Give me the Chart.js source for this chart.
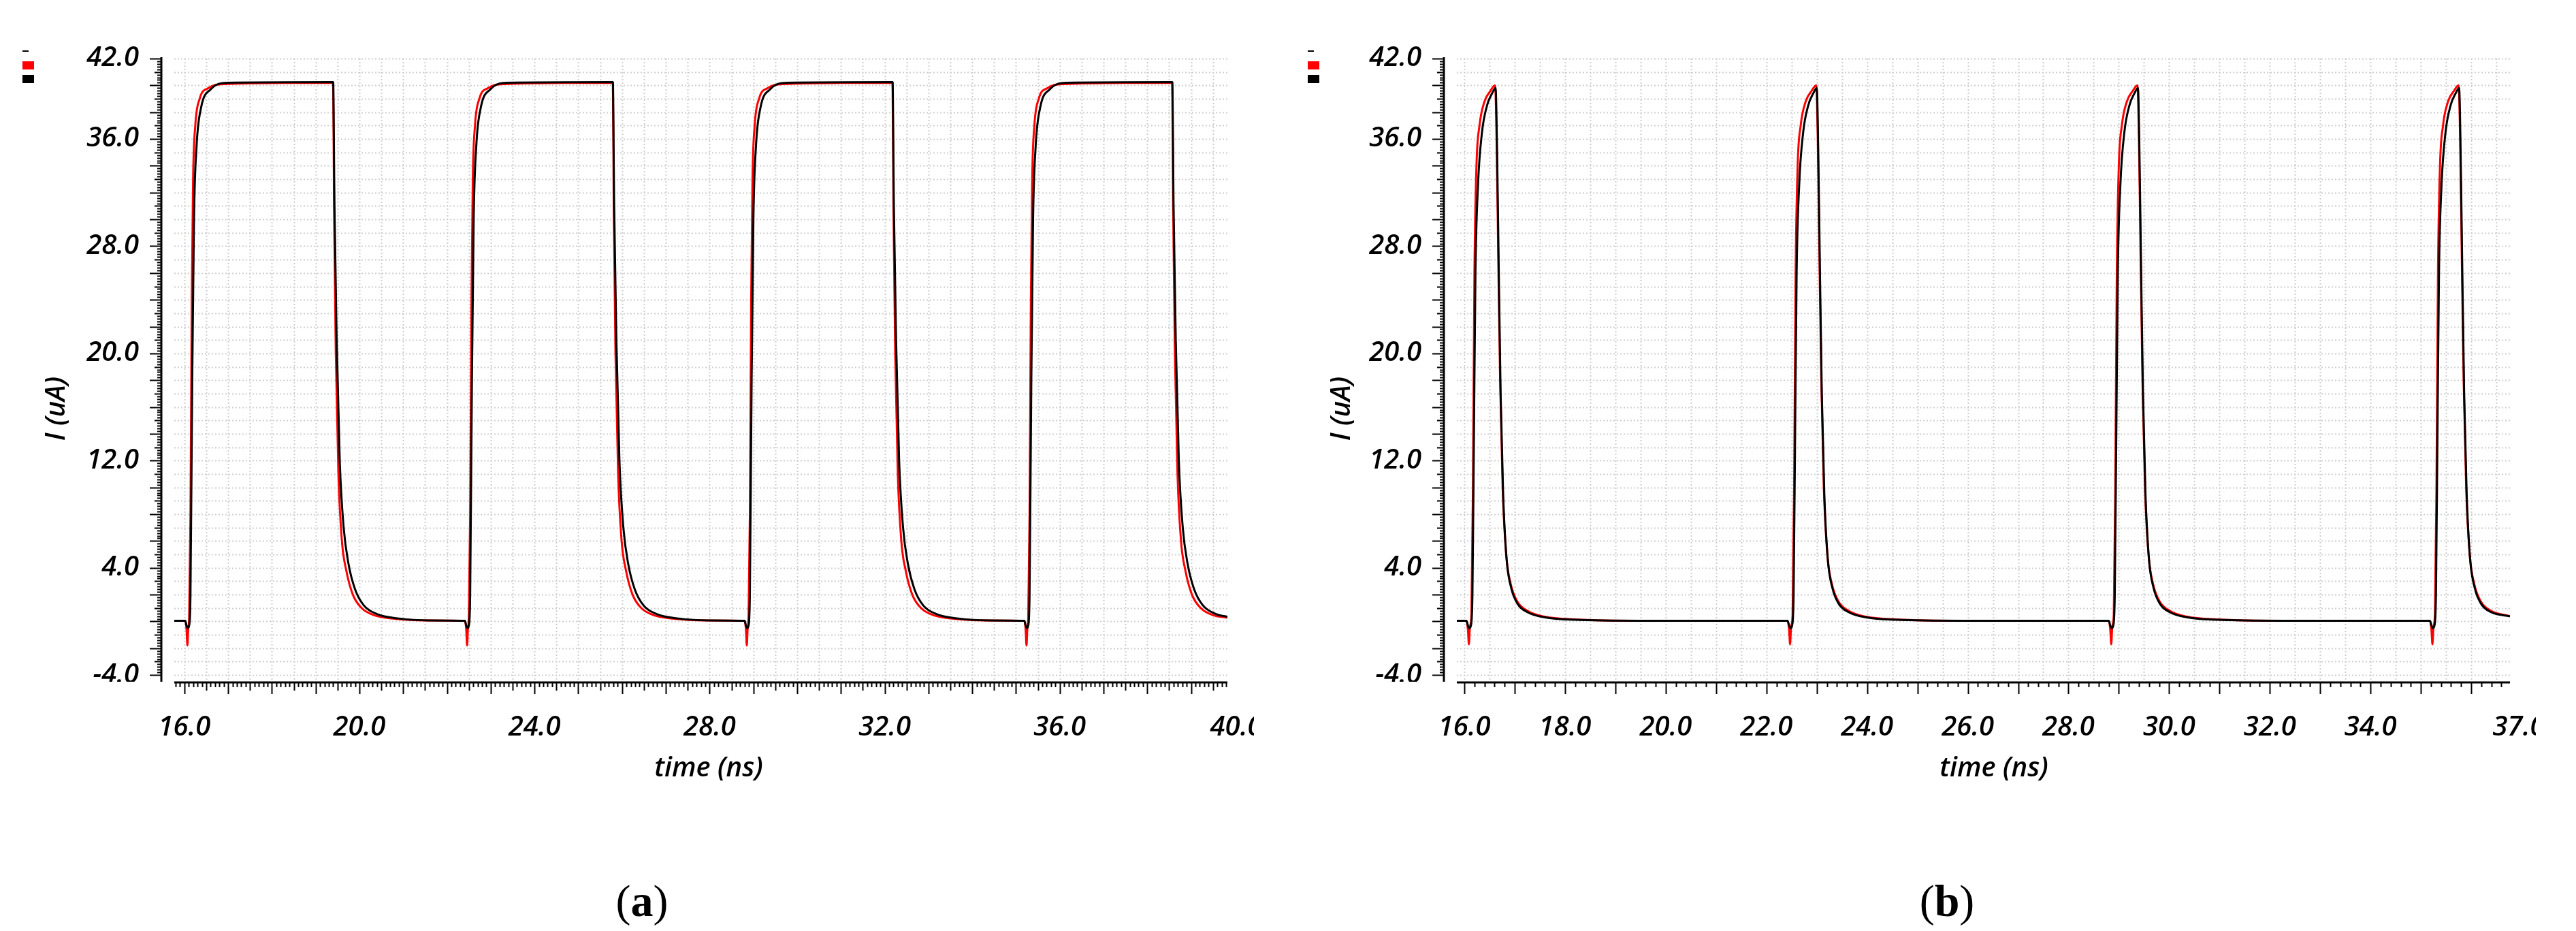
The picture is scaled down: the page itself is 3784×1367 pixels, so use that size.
<!DOCTYPE html>
<html><head><meta charset="utf-8">
<script src="https://cdn.jsdelivr.net/npm/chart.js@4/dist/chart.umd.min.js"></script>
<style>html,body{margin:0;padding:0;background:#fff;width:3784px;height:1367px;overflow:hidden}canvas{position:absolute;top:0}</style>
</head><body>
<canvas id="ca" width="1842" height="1367" style="left:0"></canvas>
<canvas id="cb" width="1883" height="1367" style="left:1842px"></canvas>
<script>
// ---- data (a) ----
const aRedT=[15.77,16.02,16.05,16.07,16.09,16.11,16.14,16.17,16.20,16.25,16.35,16.55,16.90,19.40,19.42,19.46,19.52,19.60,19.70,19.85,20.05,20.35,20.80,21.50,
22.41,22.44,22.46,22.48,22.50,22.53,22.56,22.59,22.64,22.74,22.94,23.29,25.79,25.81,25.85,25.91,25.99,26.09,26.24,26.44,26.74,27.19,27.89,
28.80,28.83,28.85,28.87,28.89,28.92,28.95,28.98,29.03,29.13,29.33,29.68,32.18,32.20,32.24,32.30,32.38,32.48,32.63,32.83,33.13,33.58,34.28,
35.19,35.22,35.24,35.26,35.28,35.31,35.34,35.37,35.42,35.52,35.72,36.07,38.57,38.59,38.63,38.69,38.77,38.87,39.02,39.22,39.52,39.83];
const aRedI=[0.05,0.05,-0.6,-1.8,-0.5,0.3,8,24,33,37,39,39.8,40.1,40.2,31,20,11,6,3.8,2.0,1.0,0.45,0.2,0.08,
0.05,-0.6,-1.8,-0.5,0.3,8,24,33,37,39,39.8,40.1,40.2,31,20,11,6,3.8,2.0,1.0,0.45,0.2,0.08,
0.05,-0.6,-1.8,-0.5,0.3,8,24,33,37,39,39.8,40.1,40.2,31,20,11,6,3.8,2.0,1.0,0.45,0.2,0.08,
0.05,-0.6,-1.8,-0.5,0.3,8,24,33,37,39,39.8,40.1,40.2,31,20,11,6,3.8,2.0,1.0,0.45,0.28];
const aBlkT=[15.77,16.02,16.05,16.08,16.11,16.14,16.18,16.22,16.28,16.38,16.60,17.00,19.40,19.43,19.48,19.55,19.64,19.75,19.90,20.10,20.40,20.90,21.60,
22.41,22.44,22.47,22.50,22.53,22.57,22.61,22.67,22.77,22.99,23.39,25.79,25.82,25.87,25.94,26.03,26.14,26.29,26.49,26.79,27.29,27.99,
28.80,28.83,28.86,28.89,28.92,28.96,29.00,29.06,29.16,29.38,29.78,32.18,32.21,32.26,32.33,32.42,32.53,32.68,32.88,33.18,33.68,34.38,
35.19,35.22,35.25,35.28,35.31,35.35,35.39,35.45,35.55,35.77,36.17,38.57,38.60,38.65,38.72,38.81,38.92,39.07,39.27,39.57,39.83];
const aBlkI=[0.05,0.05,-0.3,-0.5,-0.3,2,18,30,35.5,38.3,39.7,40.2,40.25,31,21,12,7,4.3,2.4,1.2,0.55,0.22,0.08,
0.05,-0.3,-0.5,-0.3,2,18,30,35.5,38.3,39.7,40.2,40.25,31,21,12,7,4.3,2.4,1.2,0.55,0.22,0.08,
0.05,-0.3,-0.5,-0.3,2,18,30,35.5,38.3,39.7,40.2,40.25,31,21,12,7,4.3,2.4,1.2,0.55,0.22,0.08,
0.05,-0.3,-0.5,-0.3,2,18,30,35.5,38.3,39.7,40.2,40.25,31,21,12,7,4.3,2.4,1.2,0.55,0.35];
// ---- data (b) ----
const bRedT=[15.85,16.04,16.07,16.09,16.11,16.14,16.17,16.20,16.24,16.30,16.40,16.52,16.61,16.64,16.67,16.71,16.76,16.83,16.92,17.05,17.25,17.60,18.20,19.50,
22.42,22.45,22.47,22.49,22.52,22.55,22.58,22.62,22.68,22.78,22.90,22.99,23.02,23.05,23.09,23.14,23.21,23.30,23.43,23.63,23.98,24.58,25.88,
28.80,28.83,28.85,28.87,28.90,28.93,28.96,29.00,29.06,29.16,29.28,29.37,29.40,29.43,29.47,29.52,29.59,29.68,29.81,30.01,30.36,30.96,32.26,
35.18,35.21,35.23,35.25,35.28,35.31,35.34,35.38,35.44,35.54,35.66,35.75,35.78,35.81,35.85,35.90,35.97,36.06,36.19,36.39,36.77];
const bRedI=[0.05,0.05,-0.6,-1.7,-0.4,0.5,10,26,34,37,38.8,39.6,40.0,36,28,18,10,5,2.8,1.5,0.8,0.35,0.15,0.05,
0.05,-0.6,-1.7,-0.4,0.5,10,26,34,37,38.8,39.6,40.0,36,28,18,10,5,2.8,1.5,0.8,0.35,0.15,0.05,
0.05,-0.6,-1.7,-0.4,0.5,10,26,34,37,38.8,39.6,40.0,36,28,18,10,5,2.8,1.5,0.8,0.35,0.15,0.05,
0.05,-0.6,-1.7,-0.4,0.5,10,26,34,37,38.8,39.6,40.0,36,28,18,10,5,2.8,1.5,0.8,0.4];
const bBlkT=[15.85,16.04,16.07,16.10,16.13,16.16,16.19,16.22,16.27,16.35,16.45,16.55,16.62,16.65,16.68,16.72,16.77,16.84,16.93,17.06,17.25,17.60,18.20,19.50,
22.42,22.45,22.48,22.51,22.54,22.57,22.60,22.65,22.73,22.83,22.93,23.00,23.03,23.06,23.10,23.15,23.22,23.31,23.44,23.63,23.98,24.58,25.88,
28.80,28.83,28.86,28.89,28.92,28.95,28.98,29.03,29.11,29.21,29.31,29.38,29.41,29.44,29.48,29.53,29.60,29.69,29.82,30.01,30.36,30.96,32.26,
35.18,35.21,35.24,35.27,35.30,35.33,35.36,35.41,35.49,35.59,35.69,35.76,35.79,35.82,35.86,35.91,35.98,36.07,36.20,36.39,36.77];
const bBlkI=[0.05,0.05,-0.3,-0.5,-0.3,2,14,26,32.5,36.5,38.5,39.4,39.8,35,27,17,9.5,4.6,2.5,1.3,0.7,0.3,0.12,0.05,
0.05,-0.3,-0.5,-0.3,2,14,26,32.5,36.5,38.5,39.4,39.8,35,27,17,9.5,4.6,2.5,1.3,0.7,0.3,0.12,0.05,
0.05,-0.3,-0.5,-0.3,2,14,26,32.5,36.5,38.5,39.4,39.8,35,27,17,9.5,4.6,2.5,1.3,0.7,0.3,0.12,0.05,
0.05,-0.3,-0.5,-0.3,2,14,26,32.5,36.5,38.5,39.4,39.8,35,27,17,9.5,4.6,2.5,1.3,0.7,0.38];
// ---- tick labels ----
const yTicks=[-4,4,12,20,28,36,42];
const aXTicks=[16,20,24,28,32,36,40];
const bXTicks=[16,18,20,22,24,26,28,30,32,34,37];

const zip=(t,v)=>t.map((x,i)=>({x:x,y:v[i]}));
const FONT='italic 600 40px "Open Sans"';

function decor(opt){
  return {
    id:'decor',
    beforeDatasetsDraw(chart){
      const c=chart.ctx,a=chart.chartArea,xs=chart.scales.x,ys=chart.scales.y;
      c.save();c.strokeStyle='#cfcfcf';c.lineWidth=2;c.setLineDash([2,3]);
      for(let v=Math.ceil(xs.min*2)/2;v<=xs.max+1e-9;v+=0.5){const p=Math.round(xs.getPixelForValue(v))+0.5;
        c.beginPath();c.moveTo(p,a.top);c.lineTo(p,a.bottom);c.stroke();}
      for(let v=-4;v<=42;v+=1){const p=Math.round(ys.getPixelForValue(v))+0.5;
        c.beginPath();c.moveTo(a.left,p);c.lineTo(a.right,p);c.stroke();}
      c.restore();
    },
    afterDraw(chart){
      const c=chart.ctx,a=chart.chartArea,xs=chart.scales.x,ys=chart.scales.y;
      const red=chart.data.datasets[1].borderColor,blk=chart.data.datasets[0].borderColor;
      c.save();c.strokeStyle='#000';c.fillStyle='#000';
      const ax=a.left-19;
      c.lineWidth=3;c.beginPath();c.moveTo(ax,ys.getPixelForValue(42)-2);c.lineTo(ax,a.bottom);c.stroke();
      c.lineWidth=2;
      for(let k=-20;k<=210;k++){const v=k/5;const p=Math.round(ys.getPixelForValue(v))+0.5;
        let L=6; if(k%10===0)L=17; else if(k%5===0)L=10;
        c.beginPath();c.moveTo(ax-L,p);c.lineTo(ax,p);c.stroke();}
      const ay=a.bottom+1;
      c.lineWidth=3;c.beginPath();c.moveTo(a.left,ay);c.lineTo(a.right,ay);c.stroke();
      c.lineWidth=2;
      const st=opt.minor;
      for(let k=Math.ceil(xs.min/st);k*st<=xs.max+1e-9;k++){const v=k*st;const p=Math.round(xs.getPixelForValue(v))+0.5;
        let L=7; const r1=Math.abs(v-Math.round(v))<1e-6, r5=Math.abs(v*2-Math.round(v*2))<1e-6;
        if(r1)L=17; else if(r5)L=12;
        c.beginPath();c.moveTo(p,ay);c.lineTo(p,ay+L);c.stroke();}
      c.font=FONT;c.textAlign='center';c.textBaseline='alphabetic';
      opt.xt.forEach(v=>{const p=v>xs.max?a.right+13:xs.getPixelForValue(v);c.fillText(v.toFixed(1),p,1080);});
      c.fillText('time (ns)',opt.xtitle,1140);
      c.save();c.beginPath();c.rect(0,0,a.left,ay-1);c.clip();
      c.textAlign='right';c.textBaseline='middle';
      yTicks.forEach(v=>c.fillText(v.toFixed(1),ax-33,ys.getPixelForValue(v)));
      c.restore();
      c.save();c.translate(opt.ytx,600);c.rotate(-Math.PI/2);c.textAlign='center';c.textBaseline='middle';
      c.fillText('I (uA)',0,0);c.restore();
      c.fillRect(opt.lg,74,9,2);
      c.fillStyle=red;c.fillRect(opt.lg,90,17,12);
      c.fillStyle=blk;c.fillRect(opt.lg,110,17,12);
      c.fillStyle='#000';c.textAlign='left';c.textBaseline='alphabetic';
      c.font='66px "Liberation Serif"';const w1=c.measureText('(').width;
      c.font='bold 66px "Liberation Serif"';const w2=c.measureText(opt.cap).width;
      const x0=opt.capx-(w1*2+w2)/2;
      c.font='66px "Liberation Serif"';c.fillText('(',x0,1345);
      c.font='bold 66px "Liberation Serif"';c.fillText(opt.cap,x0+w1,1345);
      c.font='66px "Liberation Serif"';c.fillText(')',x0+w1+w2,1345);
      c.restore();
    }
  };
}

function make(id,red,blk,xmin,xmax,pad,opt){
  new Chart(document.getElementById(id),{
    type:'line',
    data:{datasets:[
      {label:'black',data:blk,borderColor:'#000000',borderWidth:3,pointRadius:0,cubicInterpolationMode:'monotone'},
      {label:'red',data:red,borderColor:'#ff0000',borderWidth:3,pointRadius:0,cubicInterpolationMode:'monotone'}]},
    options:{responsive:false,animation:false,devicePixelRatio:1,
      layout:{padding:pad},
      plugins:{legend:{display:false},tooltip:{enabled:false}},
      scales:{x:{type:'linear',min:xmin,max:xmax,display:false},
              y:{type:'linear',min:-4.5,max:42,display:false}}},
    plugins:[decor(opt)]
  });
}
make('ca',zip(aRedT,aRedI),zip(aBlkT,aBlkI),15.77,39.83,{left:256,right:1842-1803,top:86,bottom:1367-1001},
  {minor:0.1,xt:aXTicks,xtitle:1041,ytx:84,lg:33,cap:'a',capx:943});
make('cb',zip(bRedT,bRedI),zip(bBlkT,bBlkI),15.85,36.77,{left:298,right:1883-1845,top:86,bottom:1367-1001},
  {minor:0.2,xt:bXTicks,xtitle:2929-1842,ytx:1972-1842,lg:1921-1842,cap:'b',capx:2860-1842});
</script>
</body></html>
